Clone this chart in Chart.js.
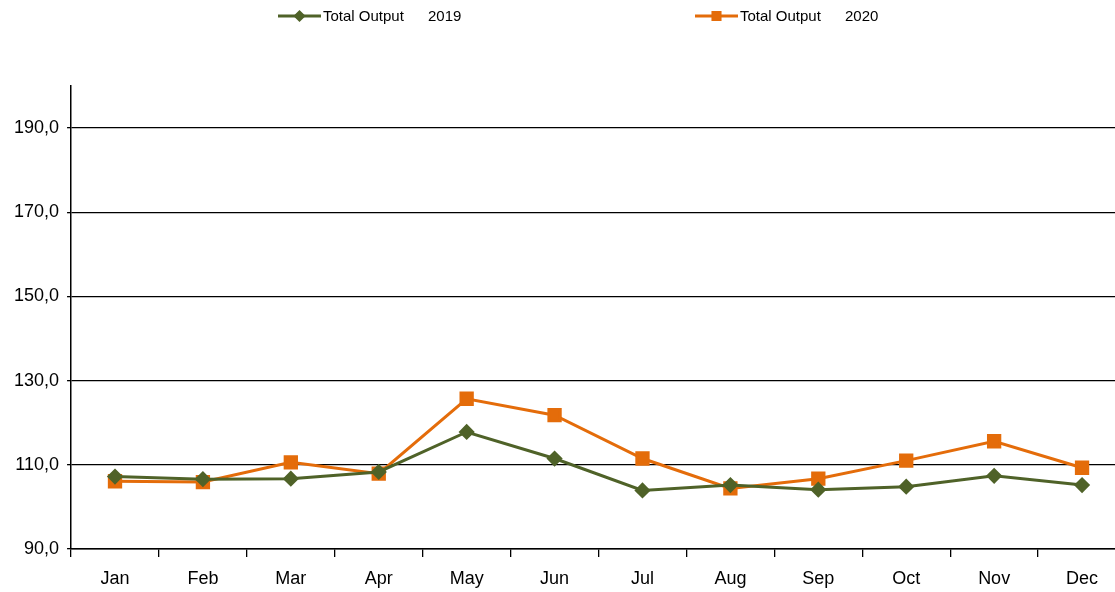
<!DOCTYPE html>
<html>
<head>
<meta charset="utf-8">
<script src="https://cdn.jsdelivr.net/npm/chart.js@4.4.1/dist/chart.umd.min.js"></script>
<style>
  html, body { margin: 0; padding: 0; background: #fff; overflow: hidden; }
  /* the original plot runs a little past the right edge of the picture, so the canvas is cropped */
  #wrap { width: 1115px; height: 592px; overflow: hidden; }
</style>
</head>
<body>
<div id="wrap"><canvas id="outputChart" width="1126" height="592"></canvas></div>
<script>
// monthly total output index
const months = ["Jan", "Feb", "Mar", "Apr", "May", "Jun", "Jul", "Aug", "Sep", "Oct", "Nov", "Dec"];
const output2019 = [107.2, 106.6, 106.7, 108.3, 117.8, 111.5, 103.9, 105.2, 104.1, 104.8, 107.4, 105.2];
const output2020 = [106.1, 105.9, 110.6, 107.9, 125.7, 121.8, 111.5, 104.4, 106.7, 111.0, 115.6, 109.3];
const yTicks = [90, 110, 130, 150, 170, 190];
const seriesNames = ["Total Output", "Total Output"];
const seriesYears = ["2019", "2020"];

const GREEN = "#4f6228";
const ORANGE = "#e46c0a";
const axisFont = { family: "'Liberation Sans', Arial, sans-serif", size: 18 };

// legend row at the top, drawn by hand so the two items sit far apart like the original
const topLegend = {
    id: "topLegend",
    afterDraw(chart) {
        const ctx = chart.ctx;
        const items = [
            { x: 278, color: GREEN, style: "rectRot", r: 4, i: 0 },
            { x: 695, color: ORANGE, style: "rect", r: 5, i: 1 }
        ];
        ctx.save();
        ctx.font = "15px 'Liberation Sans', Arial, sans-serif";
        ctx.textBaseline = "middle";
        items.forEach(it => {
            const y = 16;
            ctx.strokeStyle = it.color;
            ctx.lineWidth = 3;
            ctx.beginPath();
            ctx.moveTo(it.x, y);
            ctx.lineTo(it.x + 43, y);
            ctx.stroke();
            Chart.helpers.drawPoint(ctx, { pointStyle: it.style, radius: it.r, rotation: 0, borderWidth: 1 }, it.x + 21.5, y);
            ctx.fillStyle = it.color;
            ctx.fill();
            ctx.fillStyle = "#000";
            ctx.fillText(seriesNames[it.i], it.x + 45, y + 1);
            ctx.fillText(seriesYears[it.i], it.x + 150, y + 1);
        });
        ctx.restore();
    }
};

const ctx = document.getElementById("outputChart").getContext("2d");
new Chart(ctx, {
    type: "line",
    data: {
        labels: months,
        datasets: [
            {
                label: seriesNames[0] + " " + seriesYears[0],
                data: output2019,
                borderColor: GREEN,
                backgroundColor: GREEN,
                borderWidth: 3,
                pointStyle: "rectRot",
                pointRadius: 6,
                pointHoverRadius: 6,
                tension: 0
            },
            {
                label: seriesNames[1] + " " + seriesYears[1],
                data: output2020,
                borderColor: ORANGE,
                backgroundColor: ORANGE,
                borderWidth: 3,
                pointStyle: "rect",
                pointRadius: 8,
                pointHoverRadius: 8,
                tension: 0
            }
        ]
    },
    options: {
        responsive: false,
        animation: false,
        layout: { autoPadding: false, padding: { top: 86, left: 6, right: 0, bottom: 0 } },
        plugins: {
            legend: { display: false },
            tooltip: { enabled: false }
        },
        scales: {
            x: {
                offset: true,
                afterFit: (scale) => {
                    scale.height = 43;
                },
                grid: {
                    offset: true,
                    drawOnChartArea: false,
                    drawTicks: true,
                    tickLength: 8,
                    color: "#000",
                    lineWidth: 1.3
                },
                border: { color: "#000", width: 1.5 },
                ticks: { color: "#000", font: axisFont, padding: 11, maxRotation: 0 }
            },
            y: {
                min: 90,
                max: 200,
                afterBuildTicks: (scale) => {
                    scale.ticks = yTicks.map(v => ({ value: v }));
                },
                grid: {
                    color: "#000",
                    lineWidth: 1.3,
                    drawTicks: true,
                    tickLength: 4
                },
                border: { color: "#000", width: 1.5 },
                ticks: {
                    color: "#000",
                    font: axisFont,
                    padding: 8,
                    callback: (v) => Number(v).toFixed(1).replace(".", ",")
                }
            }
        }
    },
    plugins: [topLegend]
});
</script>
</body>
</html>
